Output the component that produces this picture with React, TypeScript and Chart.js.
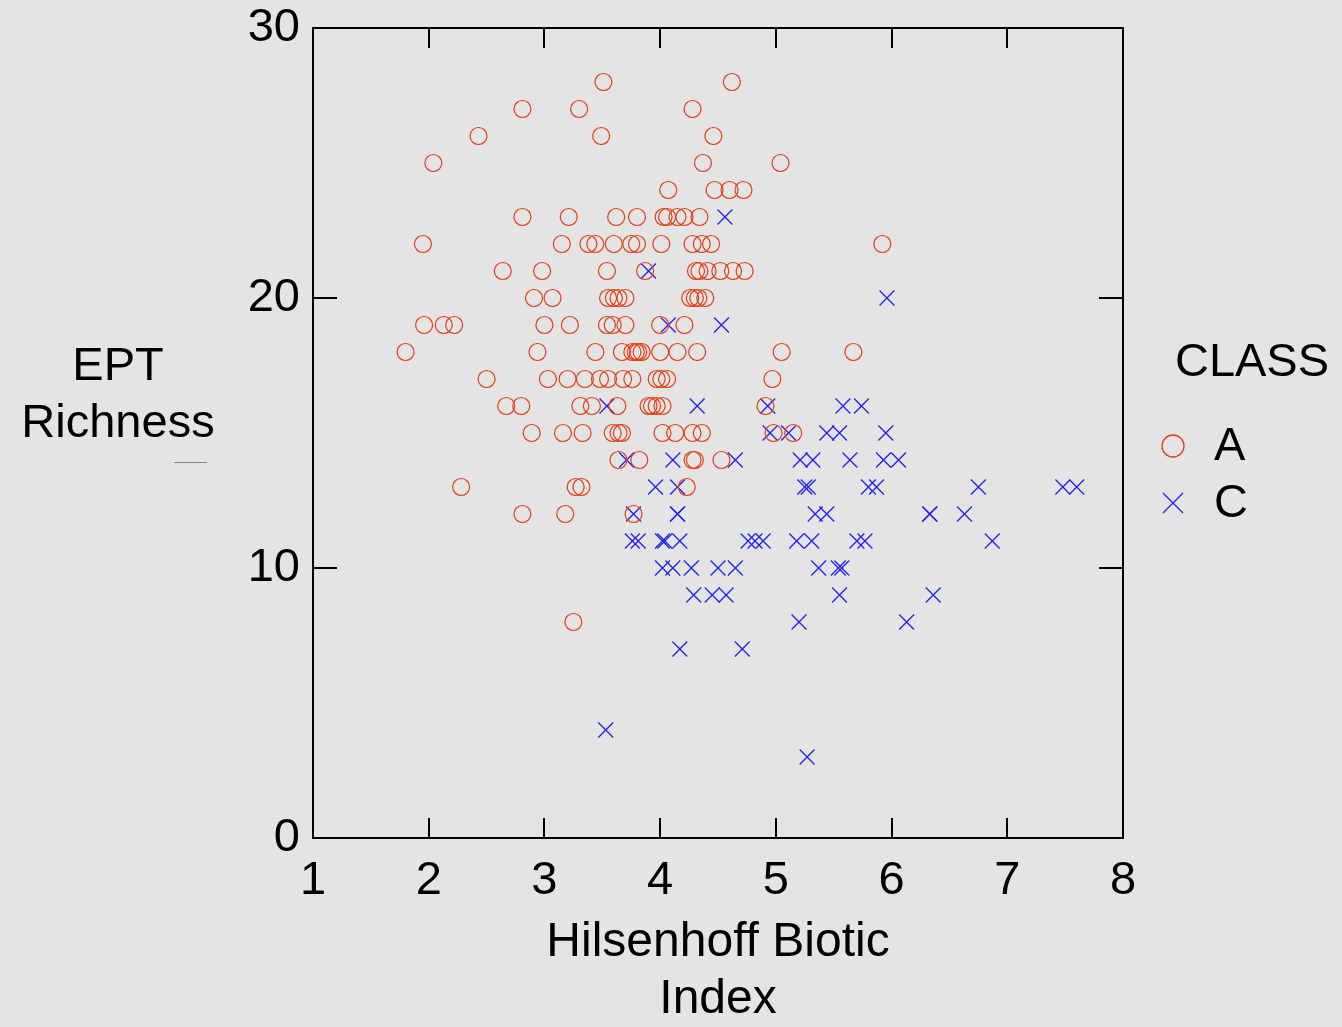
import React, { useEffect, useRef } from "react";
import { Chart, registerables } from "chart.js";

Chart.register(...registerables);

// ---- Data ----
const classAx: number[] = [
  3.51, 4.62,
  2.81, 3.30, 4.28,
  2.43, 3.49, 4.46,
  2.04, 4.37, 5.04,
  4.07, 4.47, 4.60, 4.72,
  2.81, 3.21, 3.62, 3.80, 4.03, 4.06, 4.15, 4.21, 4.34,
  1.95, 3.15, 3.38, 3.44, 3.60, 3.75, 3.80, 4.01, 4.28, 4.36, 4.44, 5.92,
  2.64, 2.98, 3.54, 3.87, 4.31, 4.34, 4.41, 4.52, 4.63, 4.73,
  2.91, 3.07, 3.55, 3.60, 3.64, 3.70, 4.26, 4.30, 4.33, 4.39,
  1.96, 2.13, 2.22, 3.00, 3.22, 3.54, 3.59, 3.70, 4.00, 4.21,
  1.80, 2.94, 3.44, 3.67, 3.76, 3.79, 3.81, 3.84, 4.00, 4.15, 4.32, 5.05, 5.67,
  2.50, 3.03, 3.20, 3.35, 3.48, 3.55, 3.68, 3.76, 3.97, 4.01, 4.06, 4.97,
  2.67, 2.80, 3.31, 3.41, 3.63, 3.90, 3.93, 3.97, 4.02, 4.91,
  2.89, 3.16, 3.33, 3.59, 3.64, 3.67, 4.02, 4.13, 4.28, 4.36, 4.98, 5.15,
  3.64, 3.82, 4.28, 4.30, 4.53,
  2.28, 3.27, 3.32, 4.23,
  2.81, 3.18, 3.77,
  3.25,
];
const classAy: number[] = [
  28, 28,
  27, 27, 27,
  26, 26, 26,
  25, 25, 25,
  24, 24, 24, 24,
  23, 23, 23, 23, 23, 23, 23, 23, 23,
  22, 22, 22, 22, 22, 22, 22, 22, 22, 22, 22, 22,
  21, 21, 21, 21, 21, 21, 21, 21, 21, 21,
  20, 20, 20, 20, 20, 20, 20, 20, 20, 20,
  19, 19, 19, 19, 19, 19, 19, 19, 19, 19,
  18, 18, 18, 18, 18, 18, 18, 18, 18, 18, 18, 18, 18,
  17, 17, 17, 17, 17, 17, 17, 17, 17, 17, 17, 17,
  16, 16, 16, 16, 16, 16, 16, 16, 16, 16,
  15, 15, 15, 15, 15, 15, 15, 15, 15, 15, 15, 15,
  14, 14, 14, 14, 14,
  13, 13, 13, 13,
  12, 12, 12,
  8,
];

const classCx: number[] = [
  4.56,
  3.90,
  5.96,
  4.07, 4.53,
  3.54, 4.32, 4.93, 5.58, 5.74,
  4.95, 5.11, 5.44, 5.55, 5.95,
  3.71, 4.11, 4.65, 5.21, 5.32, 5.64, 5.93, 6.06,
  3.96, 4.15, 5.25, 5.28, 5.80, 5.87, 6.75, 7.48, 7.60,
  3.77, 4.15, 4.15, 5.34, 5.44, 6.33, 6.33, 6.63,
  3.76, 3.81, 4.02, 4.04, 4.17, 4.76, 4.82, 4.89, 5.18, 5.31, 5.70, 5.77, 6.87,
  4.02, 4.11, 4.27, 4.50, 4.65, 5.37, 5.54, 5.57,
  4.29, 4.45, 4.57, 5.55, 6.36,
  5.20, 6.13,
  4.17, 4.71,
  3.53,
  5.27,
];
const classCy: number[] = [
  23,
  21,
  20,
  19, 19,
  16, 16, 16, 16, 16,
  15, 15, 15, 15, 15,
  14, 14, 14, 14, 14, 14, 14, 14,
  13, 13, 13, 13, 13, 13, 13, 13, 13,
  12, 12, 12, 12, 12, 12, 12, 12,
  11, 11, 11, 11, 11, 11, 11, 11, 11, 11, 11, 11, 11,
  10, 10, 10, 10, 10, 10, 10, 10,
  9, 9, 9, 9, 9,
  8, 8,
  7, 7,
  4,
  3,
];

const xTicks: number[] = [1, 2, 3, 4, 5, 6, 7, 8];
const yTicks: number[] = [0, 10, 20, 30];
const classNames: string[] = ["A", "C"];
const legendTitle = "CLASS";
const yTitleLines: string[] = ["EPT", "Richness"];
const xTitleLines: string[] = ["Hilsenhoff Biotic", "Index"];

const RED = "#e63c14";
const BLUE = "#2222f2";
const FONT_FAMILY = '"Liberation Sans", Arial, sans-serif';
const FONT_SIZE = 47;

export default function App() {
  const ref = useRef<HTMLCanvasElement | null>(null);

  useEffect(() => {
    document.body.style.margin = "0";
    document.body.style.background = "#e4e4e4";
    const canvas = ref.current;
    if (!canvas) return;

    const decorPlugin = {
      id: "decor",
      afterDraw(chart: any) {
        const { ctx, chartArea, scales } = chart;
        const { left, top, right, bottom } = chartArea;
        ctx.save();
        // frame
        ctx.strokeStyle = "#000";
        ctx.lineWidth = 2;
        ctx.strokeRect(left, top, right - left, bottom - top);
        // inward ticks
        ctx.beginPath();
        xTicks.forEach((v) => {
          const px = Math.round(scales.x.getPixelForValue(v));
          ctx.moveTo(px, bottom);
          ctx.lineTo(px, bottom - 20);
          ctx.moveTo(px, top);
          ctx.lineTo(px, top + 20);
        });
        yTicks.forEach((v) => {
          const py = Math.round(scales.y.getPixelForValue(v));
          ctx.moveTo(left, py);
          ctx.lineTo(left + 24, py);
          ctx.moveTo(right, py);
          ctx.lineTo(right - 24, py);
        });
        ctx.stroke();

        // titles
        ctx.fillStyle = "#000";
        ctx.font = `${FONT_SIZE}px ${FONT_FAMILY}`;
        ctx.textAlign = "center";
        ctx.textBaseline = "middle";
        ctx.fillText(yTitleLines[0], 118, 367);
        ctx.fillText(yTitleLines[1], 118, 424);
        ctx.font = `48px ${FONT_FAMILY}`;
        ctx.fillText(xTitleLines[0], 718, 943);
        ctx.fillText(xTitleLines[1], 718, 1000);
        ctx.font = `${FONT_SIZE}px ${FONT_FAMILY}`;

        // small stray line under y title
        ctx.strokeStyle = "#8a8a8a";
        ctx.lineWidth = 1;
        ctx.beginPath();
        ctx.moveTo(174, 462.5);
        ctx.lineTo(207, 462.5);
        ctx.stroke();

        // legend
        ctx.fillStyle = "#000";
        ctx.textAlign = "center";
        ctx.fillText(legendTitle, 1252, 363);
        ctx.textAlign = "left";
        ctx.fillText(classNames[0], 1214, 447);
        ctx.fillText(classNames[1], 1214, 504);
        ctx.strokeStyle = RED;
        ctx.lineWidth = 1.3;
        ctx.beginPath();
        ctx.arc(1173, 446, 11, 0, Math.PI * 2);
        ctx.stroke();
        ctx.strokeStyle = BLUE;
        ctx.beginPath();
        ctx.moveTo(1163, 493);
        ctx.lineTo(1183, 513);
        ctx.moveTo(1183, 493);
        ctx.lineTo(1163, 513);
        ctx.stroke();
        ctx.restore();
      },
    };

    const chart = new Chart(canvas, {
      type: "scatter",
      data: {
        datasets: [
          {
            label: classNames[0],
            data: classAx.map((x, i) => ({ x, y: classAy[i] })),
            pointStyle: "circle",
            pointRadius: 8.5,
            pointBorderWidth: 1.2,
            borderColor: RED,
            pointBorderColor: RED,
            backgroundColor: "rgba(0,0,0,0)",
            pointBackgroundColor: "rgba(0,0,0,0)",
          },
          {
            label: classNames[1],
            data: classCx.map((x, i) => ({ x, y: classCy[i] })),
            pointStyle: "crossRot",
            pointRadius: 10.5,
            pointBorderWidth: 1.3,
            borderColor: BLUE,
            pointBorderColor: BLUE,
            backgroundColor: BLUE,
          },
        ],
      },
      options: {
        animation: false,
        responsive: false,
        devicePixelRatio: 1,
        events: [],
        layout: { padding: { top: 28, right: 219, left: 0, bottom: 0 } },
        plugins: {
          legend: { display: false },
          tooltip: { enabled: false },
          title: { display: false },
        },
        scales: {
          x: {
            type: "linear",
            min: xTicks[0],
            max: xTicks[xTicks.length - 1],
            afterBuildTicks: (scale: any) => {
              scale.ticks = xTicks.map((v) => ({ value: v }));
            },
            afterFit: (scale: any) => {
              scale.height = 189;
              scale.paddingLeft = 0;
              scale.paddingRight = 0;
            },
            ticks: {
              color: "#000",
              font: { family: FONT_FAMILY, size: FONT_SIZE },
              padding: 15,
              maxRotation: 0,
              autoSkip: false,
            },
            grid: { display: false, drawTicks: false },
            border: { display: false },
          },
          y: {
            type: "linear",
            min: yTicks[0],
            max: yTicks[yTicks.length - 1],
            afterBuildTicks: (scale: any) => {
              scale.ticks = yTicks.map((v) => ({ value: v }));
            },
            afterFit: (scale: any) => {
              scale.width = 313;
              scale.paddingTop = 0;
              scale.paddingBottom = 0;
            },
            ticks: {
              color: "#000",
              font: { family: FONT_FAMILY, size: FONT_SIZE },
              padding: 13,
              autoSkip: false,
            },
            grid: { display: false, drawTicks: false },
            border: { display: false },
          },
        },
      },
      plugins: [decorPlugin],
    } as any);

    return () => chart.destroy();
  }, []);

  return (
    <div style={{ position: "absolute", left: 0, top: 0, width: 1342, height: 1027, background: "#e4e4e4" }}>
      <canvas ref={ref} width={1342} height={1027} style={{ display: "block", width: 1342, height: 1027 }} />
    </div>
  );
}
